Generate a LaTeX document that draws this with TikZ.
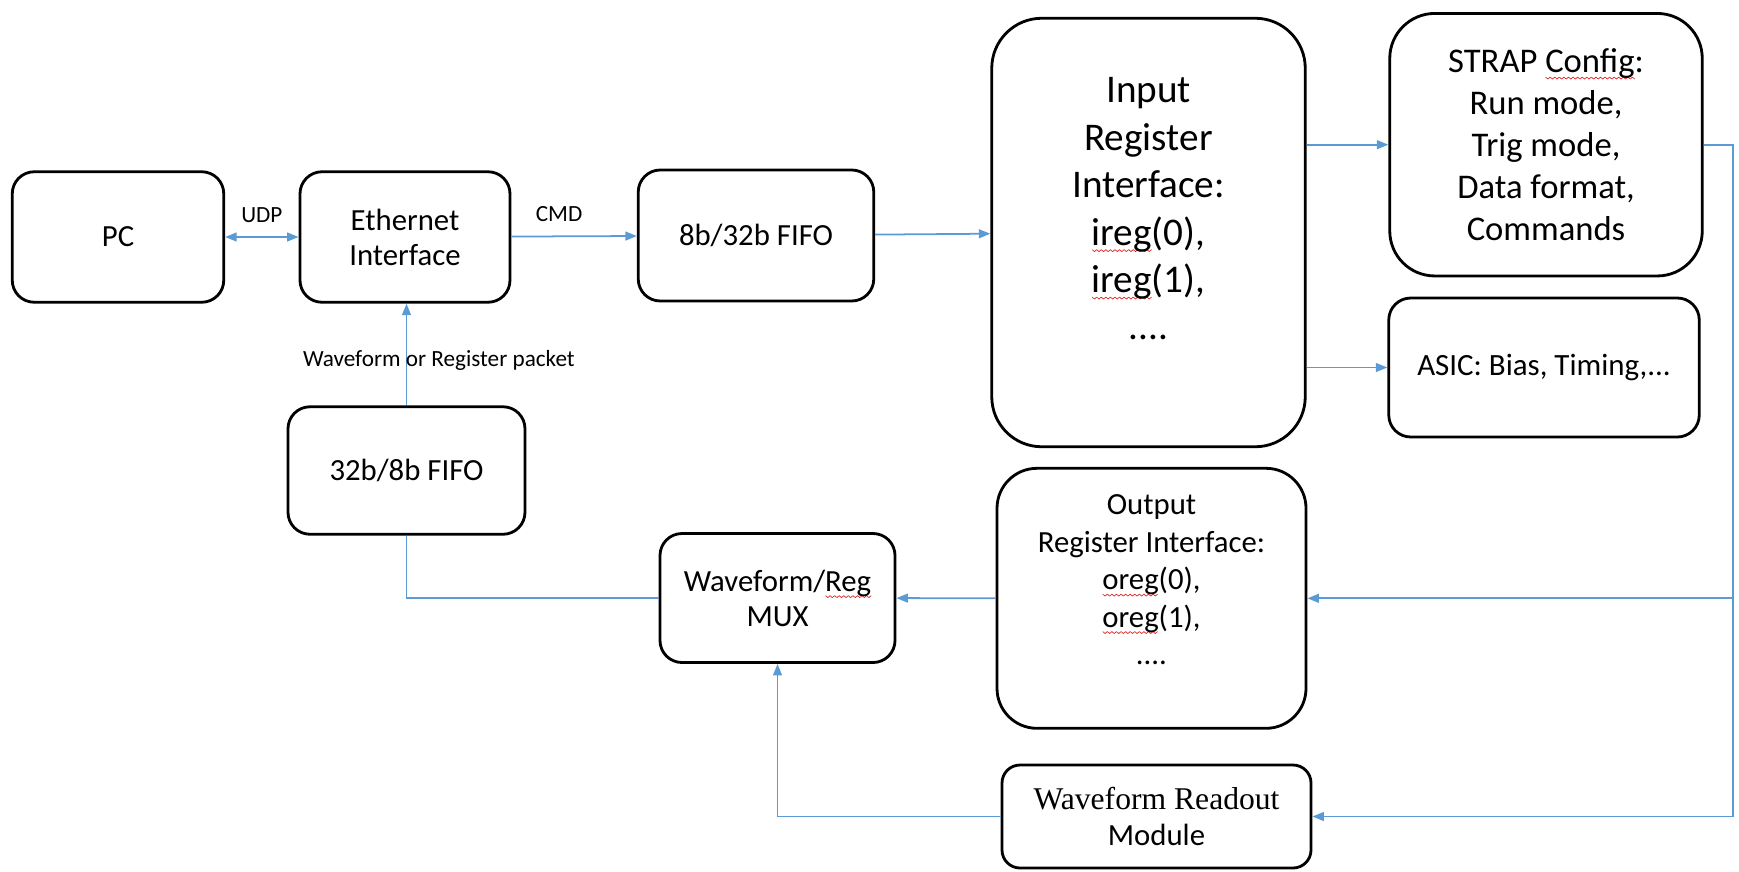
\documentclass[tikz,border=0pt]{standalone}
\usepackage{fontspec}
\setmainfont{Carlito}
\newfontfamily\timesfont{Liberation Serif}
\usetikzlibrary{arrows.meta}

\definecolor{linkblue}{RGB}{91,155,213}
\definecolor{spellred}{RGB}{220,40,40}

\newsavebox\spellbox
\newlength\spellwd
\newcommand\spellmark[1]{%
  \sbox\spellbox{#1}\setlength\spellwd{\wd\spellbox}%
  \pgfmathtruncatemacro\spelln{\spellwd/1.3pt}%
  \rlap{\tikz[baseline=0pt, x=1.3pt, y=1pt]\draw[spellred, sharp corners, line width=0.4pt, line join=round]
    (0,-2.6) \foreach \i in {1,...,\spelln} { -- (\i, {-2.6-mod(\i,2)*1.1}) };}%
  \usebox\spellbox}

\tikzset{%
  every block/.style={
    rectangle,
    draw,
    line width=1.6pt,
    rounded corners=4.4mm,
    align=center,
    font=\fontsize{17.5pt}{19.9pt}\selectfont
  },
  link/.style={
    draw=linkblue,
    line width=1pt
  },
  link label/.style={
    font=\fontsize{13.2pt}{15pt}\selectfont
  },
}

\begin{document}
\begin{tikzpicture}[x=0.2mm, y=-0.2mm, >={Triangle[length=6.5pt,width=5pt]}]
\useasboundingbox (0,0) rectangle (1739,871);

% Bloecke
\node [every block, minimum width=42.3mm, minimum height=26.1mm] (pc) at (118,237) {PC};
\node [every block, minimum width=42mm, minimum height=26.1mm] (eth) at (405,237) {Ethernet\\Interface};
\node [every block, minimum width=47.1mm, minimum height=26.2mm] (fifoin) at (756,235.5) {8b/32b FIFO};
\node [every block, minimum width=62.7mm, minimum height=85.7mm, rounded corners=10mm,
  font=\fontsize{22.3pt}{27pt}\selectfont] (ireg) at (1148.5,232.5)
  {Input\\Register\\Interface:\\\spellmark{ireg}(0),\\\spellmark{ireg}(1),\\....\\ \mbox{}};
\node [every block, minimum width=62.5mm, minimum height=52.5mm, rounded corners=9mm,
  font=\fontsize{19.7pt}{23.9pt}\selectfont] (strap) at (1546,144.7)
  {STRAP \spellmark{Config}:\\Run mode,\\Trig mode,\\Data format,\\Commands};
\node [every block, minimum width=62.1mm, minimum height=27.8mm,
  font=\fontsize{17.6pt}{21pt}\selectfont] (asic) at (1544,367.5) {ASIC: Bias, Timing,...};
\node [every block, minimum width=47.4mm, minimum height=25.5mm] (fifoout) at (406.5,470.5) {32b/8b FIFO};
\node [every block, minimum width=47mm, minimum height=25.8mm] (mux) at (777.5,598) {Waveform/\spellmark{Reg}\\MUX};
\node [every block, minimum width=61.8mm, minimum height=52mm, rounded corners=8mm,
  font=\fontsize{17.5pt}{21.3pt}\selectfont] (oreg) at (1151.5,598.3)
  {Output\\Register Interface:\\\spellmark{oreg}(0),\\\spellmark{oreg}(1),\\....\\ \mbox{}};
\node [every block, minimum width=61.8mm, minimum height=20.6mm, rounded corners=3.6mm,
  font=\fontsize{17.5pt}{20.8pt}\selectfont] (readout) at (1156.5,816.5)
  {{\timesfont\fontsize{18pt}{20.8pt}\selectfont Waveform Readout}\\Module};

% Sammelleitung rechts
\coordinate (bus-x) at (1733,0);
\coordinate (bus-top) at (strap.east -| bus-x);
\coordinate (bus-oreg) at (oreg.east -| bus-x);
\coordinate (bus-rd) at (readout.east -| bus-x);

% Verbindungen
\draw [link, <->] (pc) -- (eth)
	node [link label, above=4.3pt, midway] {UDP};

\draw [link, ->] (eth) -- (fifoin)
	node [link label, above=4.3pt, pos=0.38] {CMD};

\draw [link, ->] (fifoin) -- (ireg);
\draw [link, ->] (ireg.east |- strap.west) -- (strap.west);
\draw [link, ->] (ireg.east |- asic.west) -- (asic.west);

\draw [link] (strap.east) -- (bus-top) -- (bus-rd);
\draw [link, ->] (bus-oreg) -- (oreg.east);
\draw [link, ->] (bus-rd) -- (readout.east);

\draw [link, ->] (oreg) -- (mux);
\draw [link, ->] (readout.west) -| (mux.south);
\draw [link] (mux.west) -| (fifoout.south);

\draw [link, ->] (fifoout.north) -- (fifoout.north |- eth.south)
	node [link label, pos=0.446, xshift=18.4pt] {Waveform or Register packet};

\end{tikzpicture}
\end{document}
